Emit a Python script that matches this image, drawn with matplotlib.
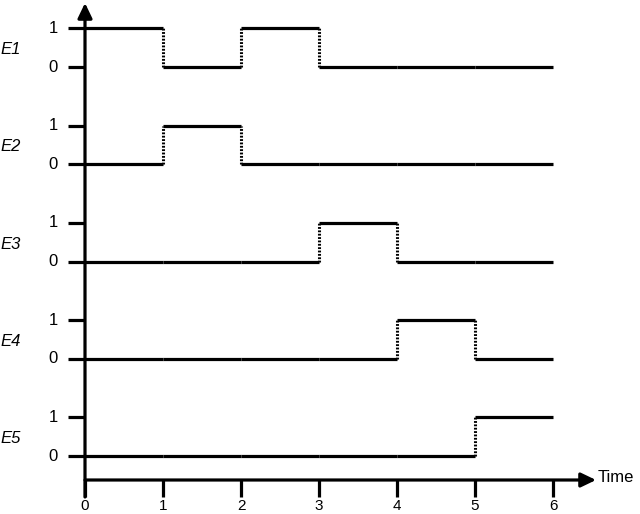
import matplotlib
matplotlib.use("Agg")
import matplotlib.pyplot as plt

# ---- data ----
signals = ["E1", "E2", "E3", "E4", "E5"]
time_ticks = [0, 1, 2, 3, 4, 5, 6]
E1 = [1, 0, 1, 0, 0, 0]
E2 = [0, 1, 0, 0, 0, 0]
E3 = [0, 0, 0, 1, 0, 0]
E4 = [0, 0, 0, 0, 1, 0]
E5 = [0, 0, 0, 0, 0, 1]
levels = [0, 1]
x_label = "Time"

series = [E1, E2, E3, E4, E5]

# ---- layout (pixel-based) ----
W, H = 640, 514
PX_X0, PX_PER_T = 85, 78.0       # pixel of t=0, px per time unit
PX_ROW0, PX_PER_Y = 67, 38.6     # pixel of E1's zero line, px per level unit
ROW_GAP = 2.52

def tx(px):
    return (px - PX_X0) / PX_PER_T

def ty(py):
    return -(py - PX_ROW0) / PX_PER_Y

plt.rcParams['font.family'] = ['Liberation Sans', 'DejaVu Sans']
fig = plt.figure(figsize=(W / 100, H / 100), dpi=100)
ax = fig.add_axes([0, 0, 1, 1])
ax.set_xlim(tx(0), tx(W))
ax.set_ylim(ty(H), ty(0))
ax.axis('off')

LW = 2.3
FS = 12

for i, (name, vals) in enumerate(zip(signals, series)):
    base = -i * ROW_GAP
    # horizontal segments
    for k, v in enumerate(vals):
        ax.hlines(base + v, time_ticks[k], time_ticks[k + 1], colors='black',
                  lw=LW, capstyle='butt')
    # dotted transitions
    for k in range(1, len(vals)):
        if vals[k] != vals[k - 1]:
            ax.vlines(time_ticks[k], base, base + 1, colors='black', lw=2.2,
                      linestyles=(0, (0.6, 0.5)))
    # y tick marks and labels
    for lv in levels:
        ax.hlines(base + lv, tx(68), 0, colors='black', lw=LW)
        ax.text(tx(58), base + lv, str(lv), ha='right', va='center', fontsize=FS)
    ax.text(tx(21), base + 0.45, name, ha='right', va='center', fontsize=FS,
            style='italic')

# axes lines with arrows
y_axis_bottom = ty(497)
x_axis_y = ty(480)
astyle = '-|>,head_length=0.75,head_width=0.36'
ax.annotate('', xy=(0, ty(3)), xytext=(0, y_axis_bottom),
            arrowprops=dict(arrowstyle=astyle, lw=LW, color='black',
                            shrinkA=0, shrinkB=0, mutation_scale=12))
ax.annotate('', xy=(tx(596), x_axis_y), xytext=(0, x_axis_y),
            arrowprops=dict(arrowstyle=astyle, lw=LW, color='black',
                            shrinkA=0, shrinkB=0, mutation_scale=12))

# x ticks
for t in time_ticks:
    ax.vlines(t, y_axis_bottom, x_axis_y, colors='black', lw=LW)
    ax.text(t, ty(513), str(t), ha='center', va='bottom', fontsize=11)

ax.text(tx(598), ty(478), x_label, ha='left', va='center', fontsize=FS)

fig.savefig("out.png", dpi=100)
